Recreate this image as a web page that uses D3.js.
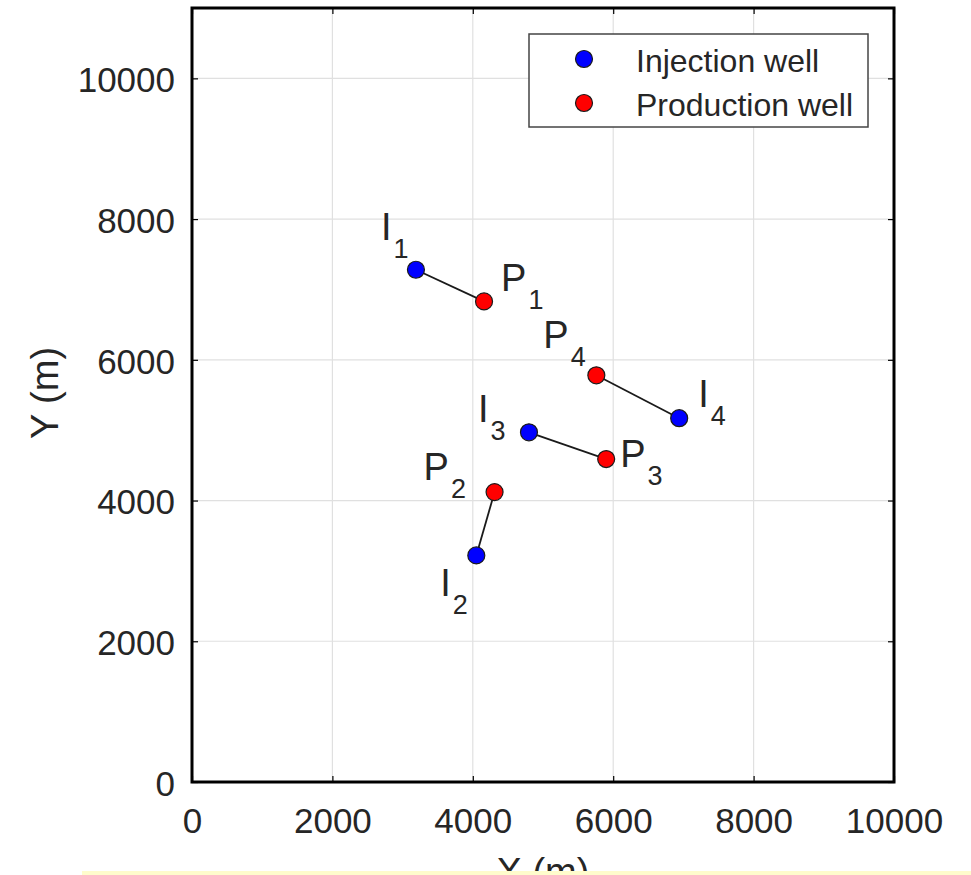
<!DOCTYPE html>
<html>
<head>
<meta charset="utf-8">
<script src="https://cdn.jsdelivr.net/npm/d3@7"></script>
<style>
  html, body { margin: 0; padding: 0; background: #ffffff; }
  svg { display: block; }
  text { font-family: "Liberation Sans", Arial, Helvetica, sans-serif; fill: #262626; }
</style>
</head>
<body>
<svg id="chart" width="971" height="875"></svg>
<script>
// ---- data ----
const wellNames   = ["I1", "P1", "I2", "P2", "I3", "P3", "I4", "P4"];
const wellLetters = ["I", "P", "I", "P", "I", "P", "I", "P"];
const wellIndex   = ["1", "1", "2", "2", "3", "3", "4", "4"];
const wellTypes   = ["Injection", "Production", "Injection", "Production", "Injection", "Production", "Injection", "Production"];
const wellX       = [3190, 4160, 4050, 4310, 4800, 5900, 6940, 5760];
const wellY       = [7280, 6830, 3220, 4120, 4970, 4590, 5170, 5780];
const pairs       = [["I1", "P1"], ["I2", "P2"], ["I3", "P3"], ["I4", "P4"]];
const xTicks      = [0, 2000, 4000, 6000, 8000, 10000];
const yTicks      = [0, 2000, 4000, 6000, 8000, 10000];
const legendLabels = ["Injection well", "Production well"];
const legendTypes  = ["Injection", "Production"];

// ---- styling / layout ----
const colors = { Injection: "#0000ff", Production: "#ff0000" };
const labelOffsets = {
  I1: [-35, -30], P1: [17, -10], I2: [-36, 41], P2: [-71, -12],
  I3: [-51, -10], P3: [14, 8], I4: [19, -11], P4: [-53, -27]
};
const L = 192, R = 894, T = 8, B = 782;

const svg = d3.select("#chart");
const x = d3.scaleLinear().domain([0, 10000]).range([L, R]);
const y = d3.scaleLinear().domain([0, 11000]).range([B, T]);

const wells = wellNames.map((n, i) => ({
  name: n, letter: wellLetters[i], idx: wellIndex[i], type: wellTypes[i], x: wellX[i], y: wellY[i]
}));
const byName = Object.fromEntries(wells.map(w => [w.name, w]));

// grid
svg.append("g").selectAll("line").data(xTicks.slice(1, -1)).join("line")
  .attr("x1", d => x(d)).attr("x2", d => x(d)).attr("y1", T).attr("y2", B)
  .attr("stroke", "#e0e0e0").attr("stroke-width", 1.2);
svg.append("g").selectAll("line").data(yTicks.slice(1)).join("line")
  .attr("x1", L).attr("x2", R).attr("y1", d => y(d)).attr("y2", d => y(d))
  .attr("stroke", "#e0e0e0").attr("stroke-width", 1.2);

// axes
const axB = svg.append("g").attr("transform", `translate(0,${B})`)
  .call(d3.axisBottom(x).tickValues(xTicks).tickSizeInner(-6).tickSizeOuter(0).tickPadding(22).tickFormat(d3.format("d")));
const axL = svg.append("g").attr("transform", `translate(${L},0)`)
  .call(d3.axisLeft(y).tickValues(yTicks).tickSizeInner(-6).tickSizeOuter(0).tickPadding(17).tickFormat(d3.format("d")));
const axT = svg.append("g").attr("transform", `translate(0,${T})`)
  .call(d3.axisTop(x).tickValues(xTicks).tickSizeInner(-6).tickSizeOuter(0).tickFormat(""));
const axR = svg.append("g").attr("transform", `translate(${R},0)`)
  .call(d3.axisRight(y).tickValues(yTicks).tickSizeInner(-6).tickSizeOuter(0).tickFormat(""));
[axB, axL, axT, axR].forEach(a => {
  a.select(".domain").remove();
  a.selectAll(".tick line").attr("stroke", "#000").attr("stroke-width", 1.2);
  a.selectAll("text").style("font-size", "35px").attr("fill", "#262626")
    .style("font-family", "'Liberation Sans', Arial, sans-serif");
});
axB.selectAll("text").attr("dy", "0.71em").attr("y", 26);
axL.selectAll("text").attr("dy", "0.38em");

// frame
svg.append("rect").attr("x", L).attr("y", T).attr("width", R - L).attr("height", B - T)
  .attr("fill", "none").attr("stroke", "#000").attr("stroke-width", 3);

// connection lines
svg.append("g").selectAll("line").data(pairs).join("line")
  .attr("x1", d => x(byName[d[0]].x)).attr("y1", d => y(byName[d[0]].y))
  .attr("x2", d => x(byName[d[1]].x)).attr("y2", d => y(byName[d[1]].y))
  .attr("stroke", "#1a1a1a").attr("stroke-width", 1.8);

// markers
svg.append("g").selectAll("circle").data(wells).join("circle")
  .attr("cx", d => x(d.x)).attr("cy", d => y(d.y)).attr("r", 8.5)
  .attr("fill", d => colors[d.type]).attr("stroke", "#1a1a1a").attr("stroke-width", 1.2);

// labels
const lab = svg.append("g").selectAll("text").data(wells).join("text")
  .attr("x", d => x(d.x) + labelOffsets[d.name][0])
  .attr("y", d => y(d.y) + labelOffsets[d.name][1])
  .style("font-size", "38px");
lab.append("tspan").text(d => d.letter);
lab.append("tspan").attr("dx", 2).attr("dy", 18).style("font-size", "27px").text(d => d.idx);

// legend
const lg = svg.append("g");
lg.append("rect").attr("x", 529).attr("y", 34).attr("width", 339).attr("height", 93)
  .attr("fill", "#fff").attr("stroke", "#444").attr("stroke-width", 1.5);
const li = lg.selectAll("g.item").data(legendLabels).join("g").attr("class", "item")
  .attr("transform", (d, i) => `translate(0,${59 + i * 44})`);
li.append("circle").attr("cx", 584).attr("cy", 0).attr("r", 8.5)
  .attr("fill", (d, i) => colors[legendTypes[i]]).attr("stroke", "#1a1a1a").attr("stroke-width", 1.2);
li.append("text").attr("x", 636).attr("y", 13).style("font-size", "32px").text(d => d);

// axis titles
svg.append("text").attr("transform", "translate(58,393) rotate(-90)")
  .attr("text-anchor", "middle").style("font-size", "38px").text("Y (m)");
svg.append("text").attr("x", 543).attr("y", 885)
  .attr("text-anchor", "middle").style("font-size", "38px").text("X (m)");

// pale strip at the bottom edge
svg.append("rect").attr("x", 82).attr("y", 871).attr("width", 889).attr("height", 4).attr("fill", "#fffccc");
</script>
</body>
</html>
